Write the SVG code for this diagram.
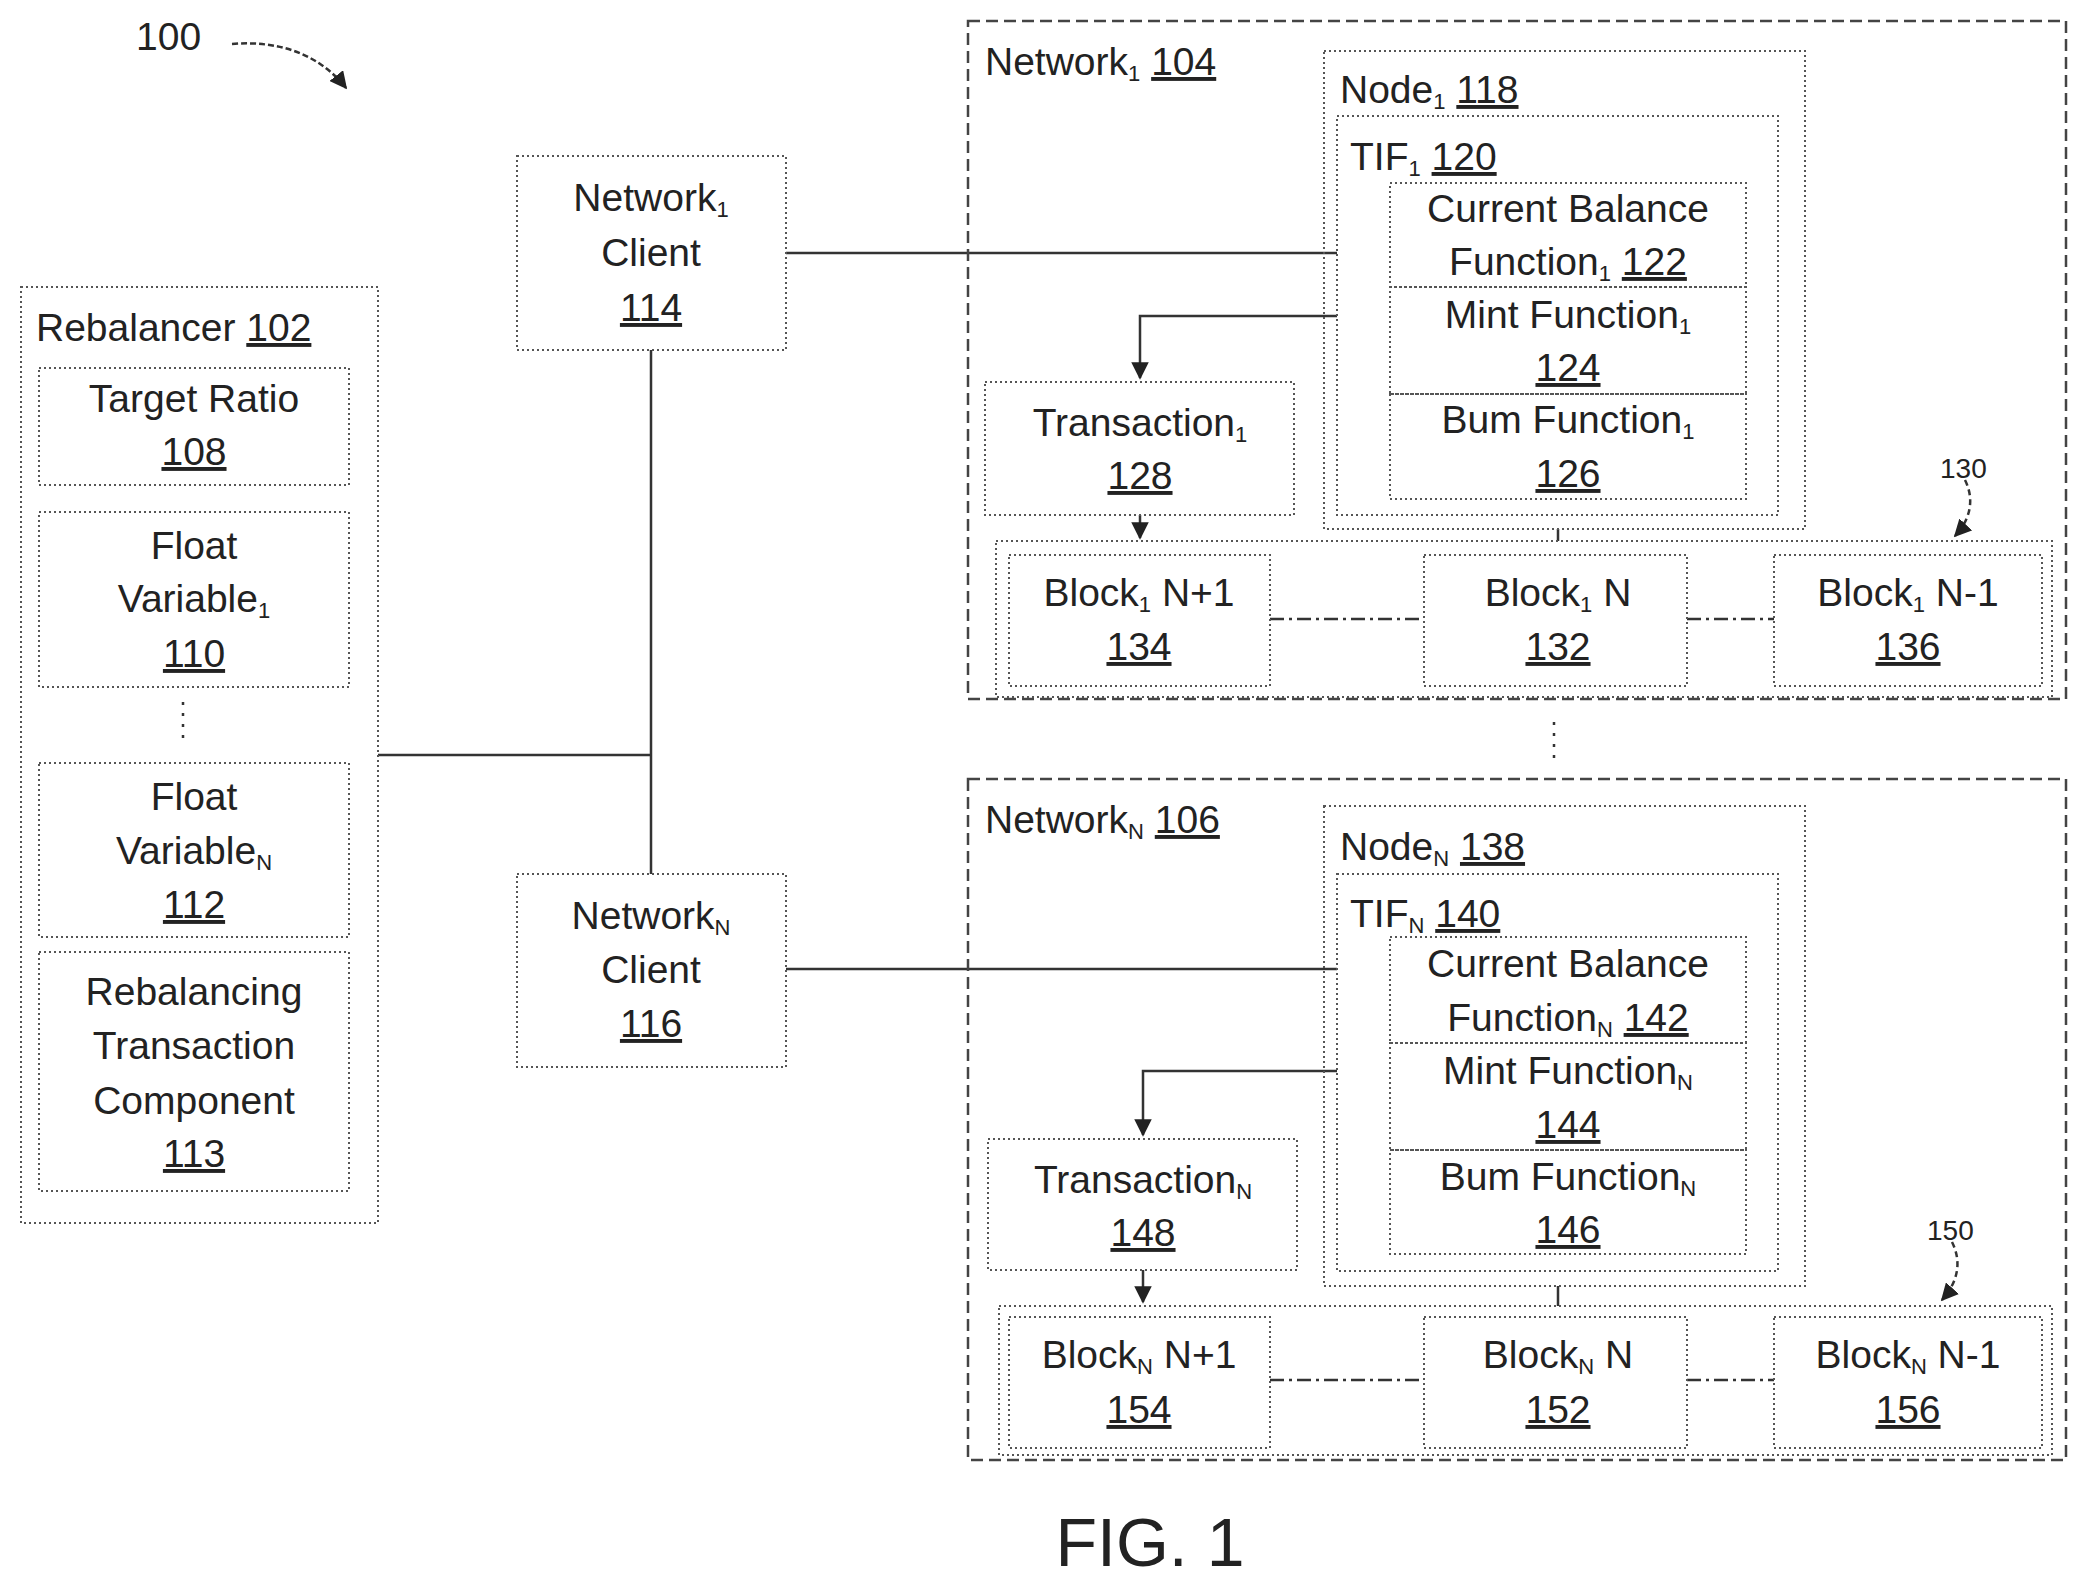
<svg xmlns="http://www.w3.org/2000/svg" width="2087" height="1588" viewBox="0 0 2087 1588">
<style>
text{font-family:"Liberation Sans",Arial,sans-serif;font-size:39px;fill:#222}
.c{text-anchor:middle}
.u{text-decoration:underline}
.s{font-size:22px}
.r{font-size:28px}
.b{fill:none;stroke:#555;stroke-width:2;stroke-dasharray:2 3}
.n{fill:none;stroke:#444;stroke-width:2.5;stroke-dasharray:12 6}
.l{fill:none;stroke:#333;stroke-width:2.5}
.dd{fill:none;stroke:#333;stroke-width:2.5;stroke-dasharray:14 5 3 5}
</style>
<defs><marker id="a" viewBox="0 0 10 10" refX="9" refY="5" markerWidth="7" markerHeight="7" orient="auto"><path d="M0,0L10,5L0,10z" fill="#222"/></marker></defs>
<text x="136" y="50">100</text>
<path class="l" stroke-dasharray="6 3" d="M232,44 C280,40 320,55 346,88" marker-end="url(#a)"/>
<g id="connectors">
<path class="l" d="M378,755H651M651,350V874M786,253H1337M786,969H1337"/>
<path class="l" d="M1337,316H1140V378" marker-end="url(#a)"/>
<path class="l" d="M1140,515V538" marker-end="url(#a)"/>
<path class="l" d="M1558,529V541M1558,1286V1306"/>
<path class="l" d="M1337,1071H1143V1135" marker-end="url(#a)"/>
<path class="l" d="M1143,1270V1302" marker-end="url(#a)"/>
<path class="dd" d="M1270,619H1424M1687,619H1774M1270,1380H1424M1687,1380H1774"/>
<path class="l" stroke-dasharray="6 4" d="M1965,480 C1975,500 1970,520 1955,536" marker-end="url(#a)"/>
<path class="l" stroke-dasharray="6 4" d="M1952,1242 C1962,1262 1958,1282 1942,1300" marker-end="url(#a)"/>
<path class="l" stroke-dasharray="3 8" d="M183,702V742M1554,722V762"/>
</g>
<g id="rebalancer"><rect class="b" x="21" y="287" width="357" height="936"/><text x="36" y="341">Rebalancer <tspan class="u">102</tspan></text></g>
<g id="target"><rect class="b" x="39" y="368" width="310" height="117"/><text class="c" x="194" y="412">Target Ratio</text><text class="c u" x="194" y="465">108</text></g>
<g id="fv1"><rect class="b" x="39" y="512" width="310" height="175"/><text class="c" x="194" y="559">Float</text><text class="c" x="194" y="612">Variable<tspan class="s" dy="6">1</tspan></text><text class="c u" x="194" y="667">110</text></g>
<g id="fvn"><rect class="b" x="39" y="763" width="310" height="174"/><text class="c" x="194" y="810">Float</text><text class="c" x="194" y="864">Variable<tspan class="s" dy="6">N</tspan></text><text class="c u" x="194" y="918">112</text></g>
<g id="rtc"><rect class="b" x="39" y="952" width="310" height="239"/><text class="c" x="194" y="1005">Rebalancing</text><text class="c" x="194" y="1059">Transaction</text><text class="c" x="194" y="1114">Component</text><text class="c u" x="194" y="1167">113</text></g>
<g id="client1"><rect class="b" x="517" y="156" width="269" height="194"/><text class="c" x="651" y="211">Network<tspan class="s" dy="6">1</tspan></text><text class="c" x="651" y="266">Client</text><text class="c u" x="651" y="321">114</text></g>
<g id="clientN"><rect class="b" x="517" y="874" width="269" height="193"/><text class="c" x="651" y="929">Network<tspan class="s" dy="6">N</tspan></text><text class="c" x="651" y="983">Client</text><text class="c u" x="651" y="1037">116</text></g>
<g id="net1"><rect class="n" x="968" y="21" width="1098" height="678"/><text x="985" y="75">Network<tspan class="s" dy="6">1</tspan><tspan dy="-6"> </tspan><tspan class="u">104</tspan></text></g>
<g id="node1"><rect class="b" x="1324" y="51" width="481" height="478"/><text x="1340" y="103">Node<tspan class="s" dy="6">1</tspan><tspan dy="-6"> </tspan><tspan class="u">118</tspan></text></g>
<g id="tif1"><rect class="b" x="1337" y="116" width="441" height="399"/><text x="1350" y="170">TIF<tspan class="s" dy="6">1</tspan><tspan dy="-6"> </tspan><tspan class="u">120</tspan></text></g>
<g id="cb1"><rect class="b" x="1390" y="183" width="356" height="104"/><text class="c" x="1568" y="222">Current Balance</text><text class="c" x="1568" y="275">Function<tspan class="s" dy="6">1</tspan><tspan dy="-6"> </tspan><tspan class="u">122</tspan></text></g>
<g id="mint1"><rect class="b" x="1390" y="287" width="356" height="107"/><text class="c" x="1568" y="328">Mint Function<tspan class="s" dy="6">1</tspan></text><text class="c u" x="1568" y="381">124</text></g>
<g id="burn1"><rect class="b" x="1390" y="394" width="356" height="105"/><text class="c" x="1568" y="433">Bum Function<tspan class="s" dy="6">1</tspan></text><text class="c u" x="1568" y="487">126</text></g>
<g id="tx1"><rect class="b" x="985" y="382" width="309" height="133"/><text class="c" x="1140" y="436">Transaction<tspan class="s" dy="6">1</tspan></text><text class="c u" x="1140" y="489">128</text></g>
<g id="chain1"><rect class="b" x="996" y="541" width="1056" height="156"/><text class="r" x="1940" y="478">130</text></g>
<g id="b134"><rect class="b" x="1009" y="555" width="261" height="131"/><text class="c" x="1139" y="606">Block<tspan class="s" dy="6">1</tspan><tspan dy="-6"> N+1</tspan></text><text class="c u" x="1139" y="660">134</text></g>
<g id="b132"><rect class="b" x="1424" y="555" width="263" height="131"/><text class="c" x="1558" y="606">Block<tspan class="s" dy="6">1</tspan><tspan dy="-6"> N</tspan></text><text class="c u" x="1558" y="660">132</text></g>
<g id="b136"><rect class="b" x="1774" y="555" width="268" height="131"/><text class="c" x="1908" y="606">Block<tspan class="s" dy="6">1</tspan><tspan dy="-6"> N-1</tspan></text><text class="c u" x="1908" y="660">136</text></g>
<g id="netN"><rect class="n" x="968" y="779" width="1098" height="681"/><text x="985" y="833">Network<tspan class="s" dy="6">N</tspan><tspan dy="-6"> </tspan><tspan class="u">106</tspan></text></g>
<g id="nodeN"><rect class="b" x="1324" y="806" width="481" height="480"/><text x="1340" y="860">Node<tspan class="s" dy="6">N</tspan><tspan dy="-6"> </tspan><tspan class="u">138</tspan></text></g>
<g id="tifN"><rect class="b" x="1337" y="874" width="441" height="397"/><text x="1350" y="927">TIF<tspan class="s" dy="6">N</tspan><tspan dy="-6"> </tspan><tspan class="u">140</tspan></text></g>
<g id="cbN"><rect class="b" x="1390" y="937" width="356" height="106"/><text class="c" x="1568" y="977">Current Balance</text><text class="c" x="1568" y="1031">Function<tspan class="s" dy="6">N</tspan><tspan dy="-6"> </tspan><tspan class="u">142</tspan></text></g>
<g id="mintN"><rect class="b" x="1390" y="1043" width="356" height="107"/><text class="c" x="1568" y="1084">Mint Function<tspan class="s" dy="6">N</tspan></text><text class="c u" x="1568" y="1138">144</text></g>
<g id="burnN"><rect class="b" x="1390" y="1150" width="356" height="104"/><text class="c" x="1568" y="1190">Bum Function<tspan class="s" dy="6">N</tspan></text><text class="c u" x="1568" y="1243">146</text></g>
<g id="txN"><rect class="b" x="988" y="1139" width="309" height="131"/><text class="c" x="1143" y="1193">Transaction<tspan class="s" dy="6">N</tspan></text><text class="c u" x="1143" y="1246">148</text></g>
<g id="chainN"><rect class="b" x="999" y="1306" width="1053" height="149"/><text class="r" x="1927" y="1240">150</text></g>
<g id="b154"><rect class="b" x="1009" y="1317" width="261" height="131"/><text class="c" x="1139" y="1368">Block<tspan class="s" dy="6">N</tspan><tspan dy="-6"> N+1</tspan></text><text class="c u" x="1139" y="1423">154</text></g>
<g id="b152"><rect class="b" x="1424" y="1317" width="263" height="131"/><text class="c" x="1558" y="1368">Block<tspan class="s" dy="6">N</tspan><tspan dy="-6"> N</tspan></text><text class="c u" x="1558" y="1423">152</text></g>
<g id="b156"><rect class="b" x="1774" y="1317" width="268" height="131"/><text class="c" x="1908" y="1368">Block<tspan class="s" dy="6">N</tspan><tspan dy="-6"> N-1</tspan></text><text class="c u" x="1908" y="1423">156</text></g>
<text class="c" x="1150" y="1566" style="font-size:68px">FIG. 1</text>
</svg>
